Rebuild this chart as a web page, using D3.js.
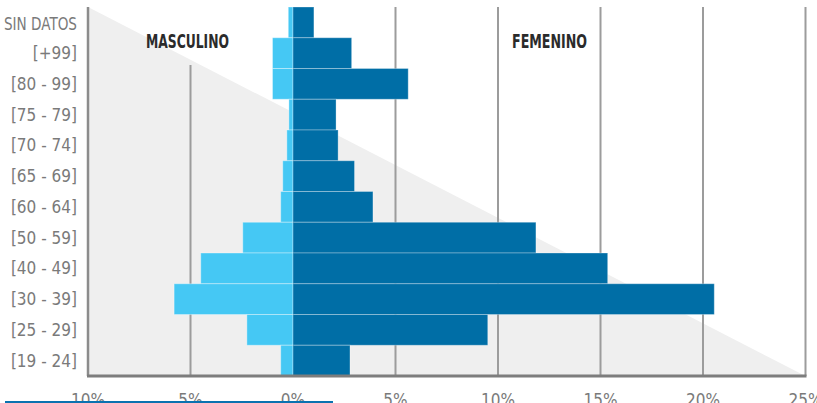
<!DOCTYPE html>
<html>
<head>
<meta charset="utf-8">
<script src="https://cdn.jsdelivr.net/npm/d3@7"></script>
<style>
  html, body { margin: 0; padding: 0; background: #fff; }
  svg { display: block; }
  .cat, .tick-label { font-family: "DejaVu Sans Condensed", "Liberation Sans Narrow", sans-serif; fill: #7a7a7a; }
  .side { font-family: "DejaVu Sans Condensed", "Liberation Sans Narrow", sans-serif; font-weight: bold; fill: #2b2b2b; }
</style>
</head>
<body>
<svg id="chart" width="817" height="403"></svg>
<script>
// Age groups, top to bottom
const categories = ["SIN DATOS", "[+99]", "[80 - 99]", "[75 - 79]", "[70 - 74]", "[65 - 69]",
                    "[60 - 64]", "[50 - 59]", "[40 - 49]", "[30 - 39]", "[25 - 29]", "[19 - 24]"];
// Share of total (%) per age group
const masculino = [0.23, 1.0, 1.0, 0.2, 0.3, 0.5, 0.6, 2.45, 4.5, 5.8, 2.25, 0.6];
const femenino  = [1.02, 2.86, 5.62, 2.1, 2.2, 3.0, 3.9, 11.85, 15.35, 20.55, 9.5, 2.78];
// Axis ticks (signed value, printed label)
const tickValues = [-10, -5, 0, 5, 10, 15, 20, 25];
const tickLabels = ["10%", "5%", "0%", "5%", "10%", "15%", "20%", "25%"];

const svg = d3.select("#chart");
const plot = { left: 88, right: 805.5, top: 7, bottom: 376 };

const x = d3.scaleLinear().domain([-10, 25]).range([plot.left, plot.right]);
const y = d3.scaleBand().domain(categories).range([plot.top, plot.bottom]).padding(0);

const darkBlue = "#006ea6";
const lightBlue = "#45c8f4";

// Shaded triangular backdrop
svg.append("path")
  .attr("d", d3.line()([
    [x(-10), y.range()[0]],
    [x(-10), y.range()[1]],
    [x(25), y.range()[1]]
  ]) + "Z")
  .attr("fill", "#efefef");

// Vertical grid lines
const grid = svg.append("g");
tickValues.forEach(v => {
  grid.append("line")
    .attr("x1", x(v)).attr("x2", x(v))
    .attr("y1", v === -5 ? 65 : plot.top)
    .attr("y2", plot.bottom)
    .attr("stroke", v === -10 ? "#8c8c8c" : "#9c9c9c")
    .attr("stroke-width", v === -10 ? 2.5 : 2);
});

// Bars: male to the left of zero, female to the right
const bars = svg.append("g");
bars.selectAll("rect.m")
  .data(categories)
  .join("rect")
  .attr("class", "m")
  .attr("x", (d, i) => x(-masculino[i]))
  .attr("y", d => y(d))
  .attr("width", (d, i) => x(0) - x(-masculino[i]))
  .attr("height", y.bandwidth())
  .attr("fill", lightBlue)
  .attr("stroke", "rgba(255,255,255,0.35)")
  .attr("stroke-width", 1);

bars.selectAll("rect.f")
  .data(categories)
  .join("rect")
  .attr("class", "f")
  .attr("x", x(0))
  .attr("y", d => y(d))
  .attr("width", (d, i) => x(femenino[i]) - x(0))
  .attr("height", y.bandwidth())
  .attr("fill", darkBlue)
  .attr("stroke", "rgba(255,255,255,0.3)")
  .attr("stroke-width", 1);

// Baseline
svg.append("line")
  .attr("x1", x(-10) - 1).attr("x2", x(25) + 1)
  .attr("y1", plot.bottom).attr("y2", plot.bottom)
  .attr("stroke", "#7d7d7d")
  .attr("stroke-width", 3);

// Category labels (squeezed when wider than the gutter)
const maxLabel = 73;
svg.append("g").selectAll("text")
  .data(categories)
  .join("text")
  .attr("class", "cat")
  .attr("x", 77)
  .attr("y", (d, i) => y(d) + y.bandwidth() / 2 + (i === 0 ? 2 : 0))
  .attr("dy", "0.36em")
  .attr("text-anchor", "end")
  .attr("font-size", 17)
  .text(d => d)
  .each(function () {
    if (this.getComputedTextLength() > maxLabel) {
      d3.select(this).attr("textLength", maxLabel).attr("lengthAdjust", "spacingAndGlyphs");
    }
  });

// Tick labels
svg.append("g").selectAll("text")
  .data(tickValues)
  .join("text")
  .attr("class", "tick-label")
  .attr("x", d => x(d))
  .attr("y", 406)
  .attr("text-anchor", "middle")
  .attr("font-size", 17)
  .text((d, i) => tickLabels[i]);

// Side titles (condensed to fit between grid lines)
svg.append("text").attr("class", "side")
  .attr("x", 146).attr("y", 47.5)
  .attr("font-size", 19)
  .attr("textLength", 83).attr("lengthAdjust", "spacingAndGlyphs")
  .text("MASCULINO");
svg.append("text").attr("class", "side")
  .attr("x", 512).attr("y", 47.5)
  .attr("font-size", 19)
  .attr("textLength", 75).attr("lengthAdjust", "spacingAndGlyphs")
  .text("FEMENINO");

// Blue rule along the bottom edge
svg.append("line")
  .attr("x1", 5).attr("x2", 333)
  .attr("y1", 402).attr("y2", 402)
  .attr("stroke", "#0a72b0")
  .attr("stroke-width", 2);
</script>
</body>
</html>
